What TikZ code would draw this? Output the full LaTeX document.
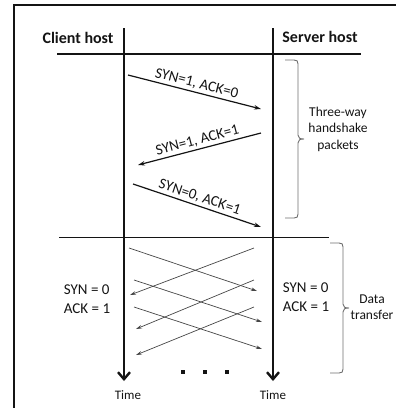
\documentclass[tikz,border=0pt]{standalone}
\usepackage{fontspec}
\setmainfont{Carlito}
\usetikzlibrary{
  arrows.meta,
  positioning
}
\definecolor{ink}{RGB}{20,20,20}
\definecolor{wire}{RGB}{70,70,70}
\definecolor{bracegray}{RGB}{110,110,110}

% right-hand curly brace: x of the ends, top y, bottom y
\newcommand{\sidebrace}[3]{%
  \draw[grp] (#1,#2) -- (#1+9,#2) .. controls (#1+12,#2) and (#1+13,#2+1) .. (#1+13,#2+4)
    -- (#1+13,{(#2+#3)/2-4}) .. controls (#1+13,{(#2+#3)/2-1}) and (#1+15,{(#2+#3)/2}) .. (#1+19,{(#2+#3)/2})
    .. controls (#1+15,{(#2+#3)/2}) and (#1+13,{(#2+#3)/2+1}) .. (#1+13,{(#2+#3)/2+4})
    -- (#1+13,#3-4) .. controls (#1+13,#3-1) and (#1+12,#3) .. (#1+9,#3) -- (#1,#3);}

\begin{document}
\begin{tikzpicture}[x=1pt, y=-1pt, ink,
  host/.style={font=\fontsize{16}{19}\selectfont\bfseries},
  flag/.style={font=\fontsize{15}{18}\selectfont, sloped, above, pos=0.5, inner sep=2pt},
  note/.style={font=\fontsize{13.5}{16.5}\selectfont, align=center},
  stamp/.style={font=\fontsize{15}{19}\selectfont, align=left},
  timeline/.style={line width=2.4pt, -{Straight Barb[length=7pt,width=12pt]}},
  handshake/.style={line width=1.2pt, -{Stealth[length=7pt,width=4.5pt]}},
  datamsg/.style={line width=0.7pt, wire, -{Stealth[length=6pt,width=3.5pt]}},
  grp/.style={line width=0.9pt, bracegray}
]
  \useasboundingbox (0,0) rectangle (396,408);
  % outer frame
  \draw[line width=1.3pt] (14,412) -- (14,5) -- (400,5);

  % hosts and header rule
  \node[host] (client) at (78,38) {Client host};
  \node[host] (server) at (320,37) {Server host};
  \draw[line width=2pt] (57,54) -- (361,54);

  % time lines
  \coordinate (ctop) at (124,28);
  \coordinate (cbot) at (124,381);
  \coordinate (stop) at (273,28);
  \coordinate (sbot) at (273,381);
  \draw[timeline] (ctop) -- (cbot);
  \draw[timeline] (stop) -- (sbot);
  \node[font=\fontsize{13}{15}\selectfont] (ctime) at (128,395) {Time};
  \node[font=\fontsize{13}{15}\selectfont] (stime) at (273,395) {Time};

  % three-way handshake
  \coordinate (h1a) at (128,75);
  \coordinate (h1b) at (261,109);
  \coordinate (h2a) at (261,133);
  \coordinate (h2b) at (138,165);
  \coordinate (h3a) at (133,184);
  \coordinate (h3b) at (261,227);
  \draw[handshake] (h1a) -- node[flag] {SYN=1, ACK=0} (h1b);
  \draw[handshake] (h2a) -- node[flag] {SYN=1, ACK=1} (h2b);
  \draw[handshake] (h3a) -- node[flag] {SYN=0, ACK=1} (h3b);

  \sidebrace{285}{60}{218}
  \node[note] (hslabel) at (338,129) {Three-way\\handshake\\packets};

  \draw[line width=0.8pt] (59,237) -- (329,237);

  % data transfer
  \foreach \xa/\ya/\xb/\yb [count=\i] in {129/248/257/291, 134/280/262/322, 134/307/262/349,
                                           254/248/130/295, 254/280/136/329, 254/307/136/355}{
    \coordinate (d\i s) at (\xa,\ya);
    \coordinate (d\i t) at (\xb,\yb);
    \draw[datamsg] (d\i s) -- (d\i t);
  }
  \node[stamp] (cflags) at (87,299) {SYN = 0\\ACK = 1};
  \node[stamp] (sflags) at (306,297) {SYN = 0\\ACK = 1};

  \sidebrace{330}{243}{373}
  \node[note] (dtlabel) at (372,307) {Data\\transfer};

  \foreach \x in {183,205,227}
    \fill (\x-2.3,369.7) rectangle ++(4.6,4.6);
\end{tikzpicture}
\end{document}
